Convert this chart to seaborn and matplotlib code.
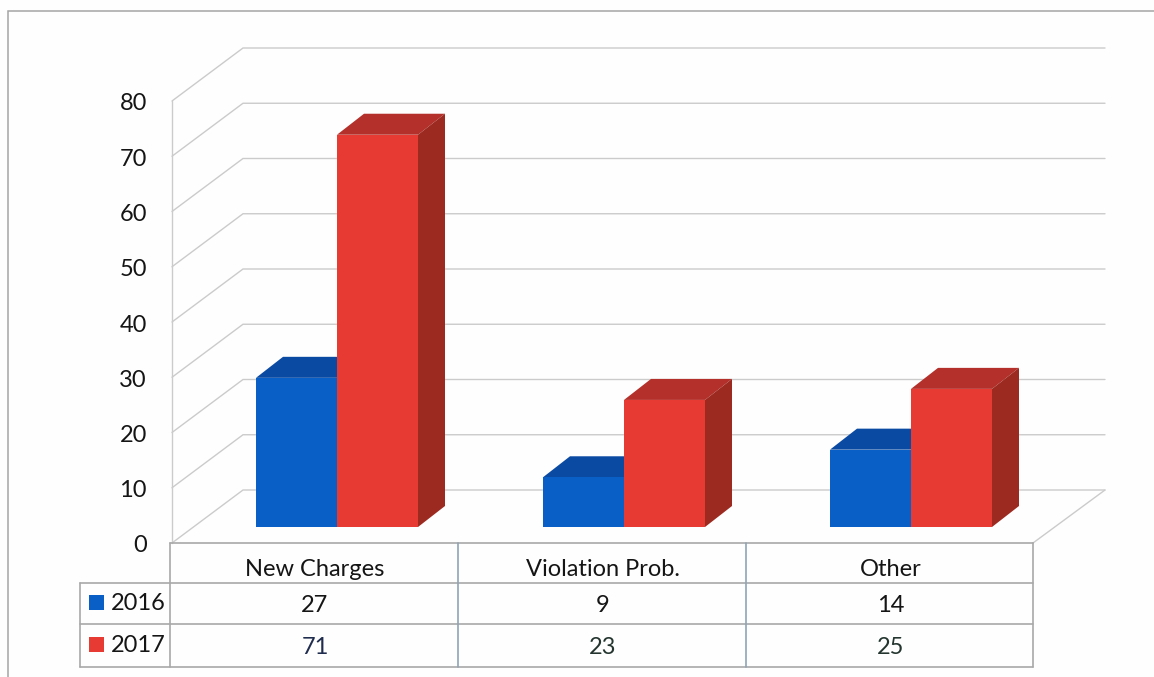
import seaborn as sns
import matplotlib.pyplot as plt
import pandas as pd
from matplotlib.patches import Polygon, Rectangle

# Values
categories = ['New Charges', 'Violation Prob.', 'Other']
years = ['2016', '2017']
values_2016 = [27, 9, 14]
values_2017 = [71, 23, 25]
y_ticks = [0, 10, 20, 30, 40, 50, 60, 70, 80]

# Colours: front, top, side
faces = {'2016': ['#0a5fc6', '#0b4aa3', '#0b3f8c'],
         '2017': ['#e73a32', '#b3302b', '#9c2a20']}

df = pd.DataFrame({'category': categories * 2,
                   'year': [years[0]] * 3 + [years[1]] * 3,
                   'count': values_2016 + values_2017})

W, H = 1154, 677
PX_CAT = 287      # pixels per category
PX_UNIT = 5.525   # pixels per count unit
BAR_X0, BAR_Y0 = 337, 527   # pixel of first category centre, value 0

sns.set_theme(style='white')
plt.rcParams['font.family'] = ['Lato', 'DejaVu Sans']
grid_col = '#cbcbcb'
rule_col = '#a8a8a8'
text_col = '#151515'
font_size = 17

fig = plt.figure(figsize=(W / 100, H / 100), dpi=100, facecolor='#fefefe')

# Frame axes in pixels, used for the walls, the data table and the border
frame = fig.add_axes([0, 0, 1, 1], zorder=1)
frame.set_xlim(0, W)
frame.set_ylim(H, 0)
frame.axis('off')

# Bar axes, placed so that the front faces sit on the floor
left = BAR_X0 - PX_CAT / 2
bottom = H - BAR_Y0
ax = fig.add_axes([left / W, bottom / H, 3 * PX_CAT / W, 80 * PX_UNIT / H], zorder=2)
sns.barplot(data=df, x='category', y='count', hue='year', order=categories, hue_order=years,
            palette=[faces[y][0] for y in years], width=81 * 2 / PX_CAT, gap=0, saturation=1,
            linewidth=0, legend=False, ax=ax)
ax.set_xlim(-0.5, 2.5)
ax.set_ylim(0, 80)
ax.axis('off')

# Depth faces of the bars, in data units
dx = 27 / PX_CAT
dy = 21 / PX_UNIT
for n, (year, bars) in enumerate(zip(years, ax.containers)):
    front, top, side = faces[year]
    for bar in bars:
        x0, x1, h = bar.get_x(), bar.get_x() + bar.get_width(), bar.get_height()
        ax.add_patch(Polygon([(x0, h), (x1, h), (x1 + dx, h + dy), (x0 + dx, h + dy)],
                             facecolor=top, linewidth=0, zorder=0.5 + n, clip_on=False))
        ax.add_patch(Polygon([(x1, 0), (x1 + dx, dy), (x1 + dx, h + dy), (x1, h)],
                             facecolor=side, linewidth=0, zorder=0.5 + n, clip_on=False))
        bar.set_zorder(1 + n)

# Walls and gridlines
for v in y_ticks:
    py = 543 - v * PX_UNIT
    frame.plot([172, 243, 1105], [py, py - 53, py - 53], color=grid_col, lw=1.0, solid_joinstyle='miter')
    frame.text(147, py + 3, str(v), ha='right', va='center', fontsize=font_size, color=text_col)
frame.plot([172, 172], [543, 543 - 80 * PX_UNIT], color=grid_col, lw=1.0)
frame.plot([1033, 1105], [543, 490], color=grid_col, lw=1.0)

# Data table
col_edges = [170, 458, 746, 1033]
row_edges = [543, 583, 624, 667]
frame.plot([170, 1033], [row_edges[0]] * 2, color=rule_col, lw=1.2)
for y in row_edges[1:]:
    frame.plot([80, 1033], [y, y], color=rule_col, lw=1.2)
frame.plot([80, 80], [583, 667], color=rule_col, lw=1.2)
frame.plot([170, 170], [543, 667], color=rule_col, lw=1.2)
frame.plot([458, 458], [543, 667], color='#8fa3b8', lw=1.2)
frame.plot([746, 746], [543, 667], color='#8fa3b8', lw=1.2)
frame.plot([1033, 1033], [543, 667], color=rule_col, lw=1.2)

for i, name in enumerate(categories):
    cx = (col_edges[i] + col_edges[i + 1]) / 2
    frame.text(cx + 1, 570, name, ha='center', va='center', fontsize=font_size, color=text_col)
    frame.text(cx + 1, 606, str(values_2016[i]), ha='center', va='center', fontsize=font_size, color=text_col)
    frame.text(cx + 1, 648, str(values_2017[i]), ha='center', va='center', fontsize=font_size,
               color='#1f2c4d' if i == 0 else '#24352f')

for year, ky in zip(years, [595, 637]):
    frame.add_patch(Rectangle((89, ky), 15, 15, facecolor=faces[year][0], linewidth=0))
    frame.text(111, ky + 9, year, ha='left', va='center', fontsize=font_size, color=text_col)

# Scan border
frame.plot([8, 8, W], [H, 11, 11], color='#a5a5a5', lw=1.1, solid_joinstyle='miter')

fig.savefig('out.png', dpi=100, facecolor=fig.get_facecolor())
